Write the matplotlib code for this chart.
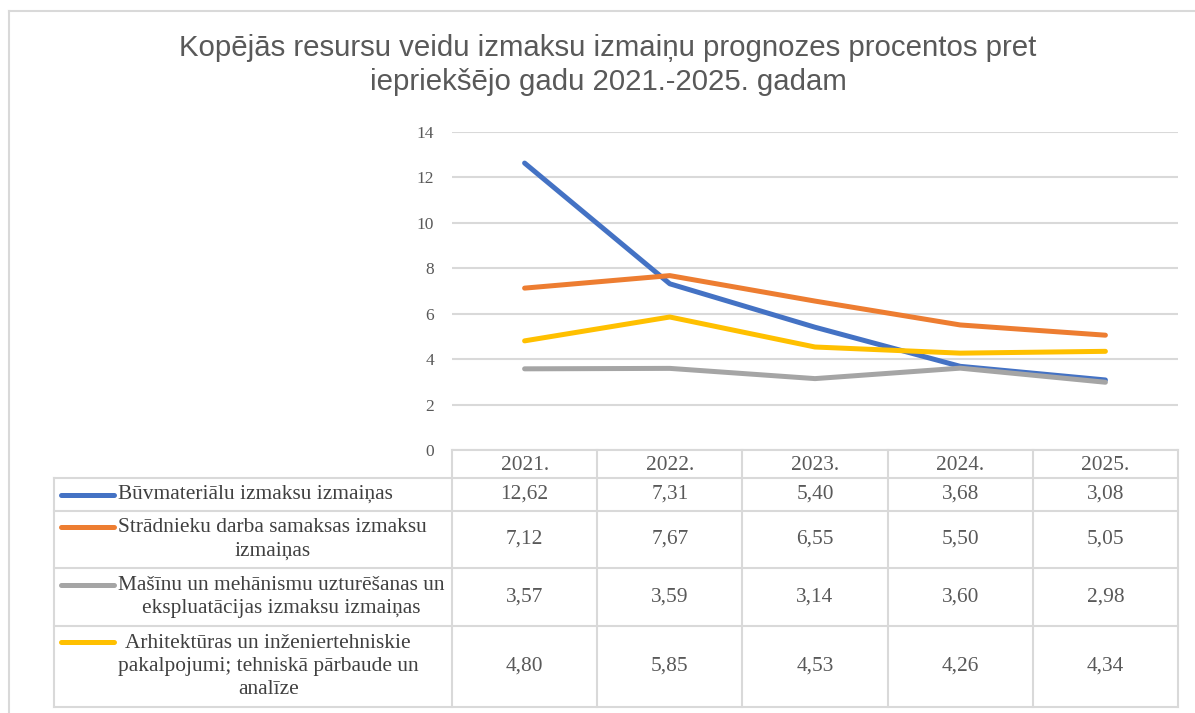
import matplotlib
matplotlib.use('Agg')
import matplotlib.pyplot as plt
import matplotlib.transforms as mtransforms
from matplotlib.lines import Line2D

# ---------------- data ----------------
years = ['2021.', '2022.', '2023.', '2024.', '2025.']
series_names = [
    'Būvmateriālu izmaksu izmaiņas',
    'Strādnieku darba samaksas izmaksu\nizmaiņas',
    'Mašīnu un mehānismu uzturēšanas un\nekspluatācijas izmaksu izmaiņas',
    'Arhitektūras un inženiertehniskie\npakalpojumi; tehniskā pārbaude un\nanalīze',
]
buvmaterialu = [12.62, 7.31, 5.40, 3.68, 3.08]
stradnieku = [7.12, 7.67, 6.55, 5.50, 5.05]
masinu = [3.57, 3.59, 3.14, 3.60, 2.98]
arhitekturas = [4.80, 5.85, 4.53, 4.26, 4.34]
series_values = [buvmaterialu, stradnieku, masinu, arhitekturas]
colors = ['#4472C4', '#ED7D31', '#A5A5A5', '#FFC000']
yticks = [0, 2, 4, 6, 8, 10, 12, 14]
title = 'Kopējās resursu veidu izmaksu izmaiņu prognozes procentos pret\niepriekšējo gadu 2021.-2025. gadam'

# ---------------- layout ----------------
W, H = 1195, 713
fig = plt.figure(figsize=(W / 100, H / 100), dpi=100)
fig.patch.set_facecolor('white')

def fx(x):
    return x / W

def fy(y):
    return 1 - y / H

ax_left, ax_right, ax_top, ax_bottom = 452, 1178, 131.7, 450
ax = fig.add_axes([fx(ax_left), fy(ax_bottom), (ax_right - ax_left) / W, (ax_bottom - ax_top) / H])
ax.set_xlim(-0.5, len(years) - 0.5)
ax.set_ylim(0, 14)
for s in ax.spines.values():
    s.set_visible(False)
ax.set_yticks(yticks)
ax.set_yticklabels([str(t) for t in yticks], fontfamily='Liberation Serif', fontsize=12.5, color='#595959')
ax.tick_params(axis='y', length=0, pad=13)
ax.set_xticks([])
ax.grid(axis='y', color='#D9D9D9', linewidth=1.5)
ax.set_axisbelow(True)

x = list(range(len(years)))
for vals, c in zip(series_values, colors):
    ax.plot(x, vals, color=c, linewidth=3.6, solid_capstyle='round', solid_joinstyle='round', zorder=3)

# pixel transform (y from top)
pix = mtransforms.Affine2D().scale(1 / W, -1 / H).translate(0, 1) + fig.transFigure
blend = mtransforms.blended_transform_factory(ax.transData, pix)

grid_c = '#D9D9D9'
lw_t = 1.5
tab_left = 54
header_top = 450
row_edges = [478, 511, 568, 626, 707]

# horizontal lines
fig.add_artist(Line2D([ax_left, ax_right], [header_top, header_top], transform=pix, color=grid_c, lw=lw_t))
for y in row_edges:
    fig.add_artist(Line2D([tab_left, ax_right], [y, y], transform=pix, color=grid_c, lw=lw_t))
# vertical lines
fig.add_artist(Line2D([tab_left, tab_left], [row_edges[0], row_edges[-1]], transform=pix, color=grid_c, lw=lw_t))
for i in range(len(years) + 1):
    xb = i - 0.5
    fig.add_artist(Line2D([xb, xb], [header_top, row_edges[-1]], transform=blend, color=grid_c, lw=lw_t))

serif = 'Liberation Serif'
fs = 15.4
txt_c = '#404040'
num_c = '#595959'

# header years
for i, yr in enumerate(years):
    fig.text(i, (header_top + row_edges[0]) / 2 + 1, yr, transform=blend, ha='center', va='center',
             fontfamily=serif, fontsize=fs, color=num_c)

line_step = 24.5
for r, (name, vals, c) in enumerate(zip(series_names, series_values, colors)):
    yc = (row_edges[r] + row_edges[r + 1]) / 2
    nlines = name.count('\n') + 1
    fig.text(118, yc, name, transform=pix, ha='left', va='center', multialignment='center',
             fontfamily=serif, fontsize=fs, color=txt_c, linespacing=1.29)
    ykey = yc - (nlines - 1) / 2 * line_step
    fig.add_artist(Line2D([61, 114], [ykey, ykey], transform=pix, color=c, lw=3.6, solid_capstyle='round'))
    for i, v in enumerate(vals):
        fig.text(i, yc, f'{v:.2f}'.replace('.', ','), transform=blend, ha='center', va='center',
                 fontfamily=serif, fontsize=fs, color=num_c)

# title
fig.text(608, 65, title, transform=pix, ha='center', va='center', multialignment='center',
         fontfamily='Liberation Sans', fontsize=21.2, color='#595959', linespacing=1.3)

# outer border
fig.add_artist(Line2D([9, 9], [10.5, 720], transform=pix, color=grid_c, lw=1.5))
fig.add_artist(Line2D([9, 1200], [10.5, 10.5], transform=pix, color=grid_c, lw=1.5))

fig.savefig('out.png', dpi=100, facecolor='white')
